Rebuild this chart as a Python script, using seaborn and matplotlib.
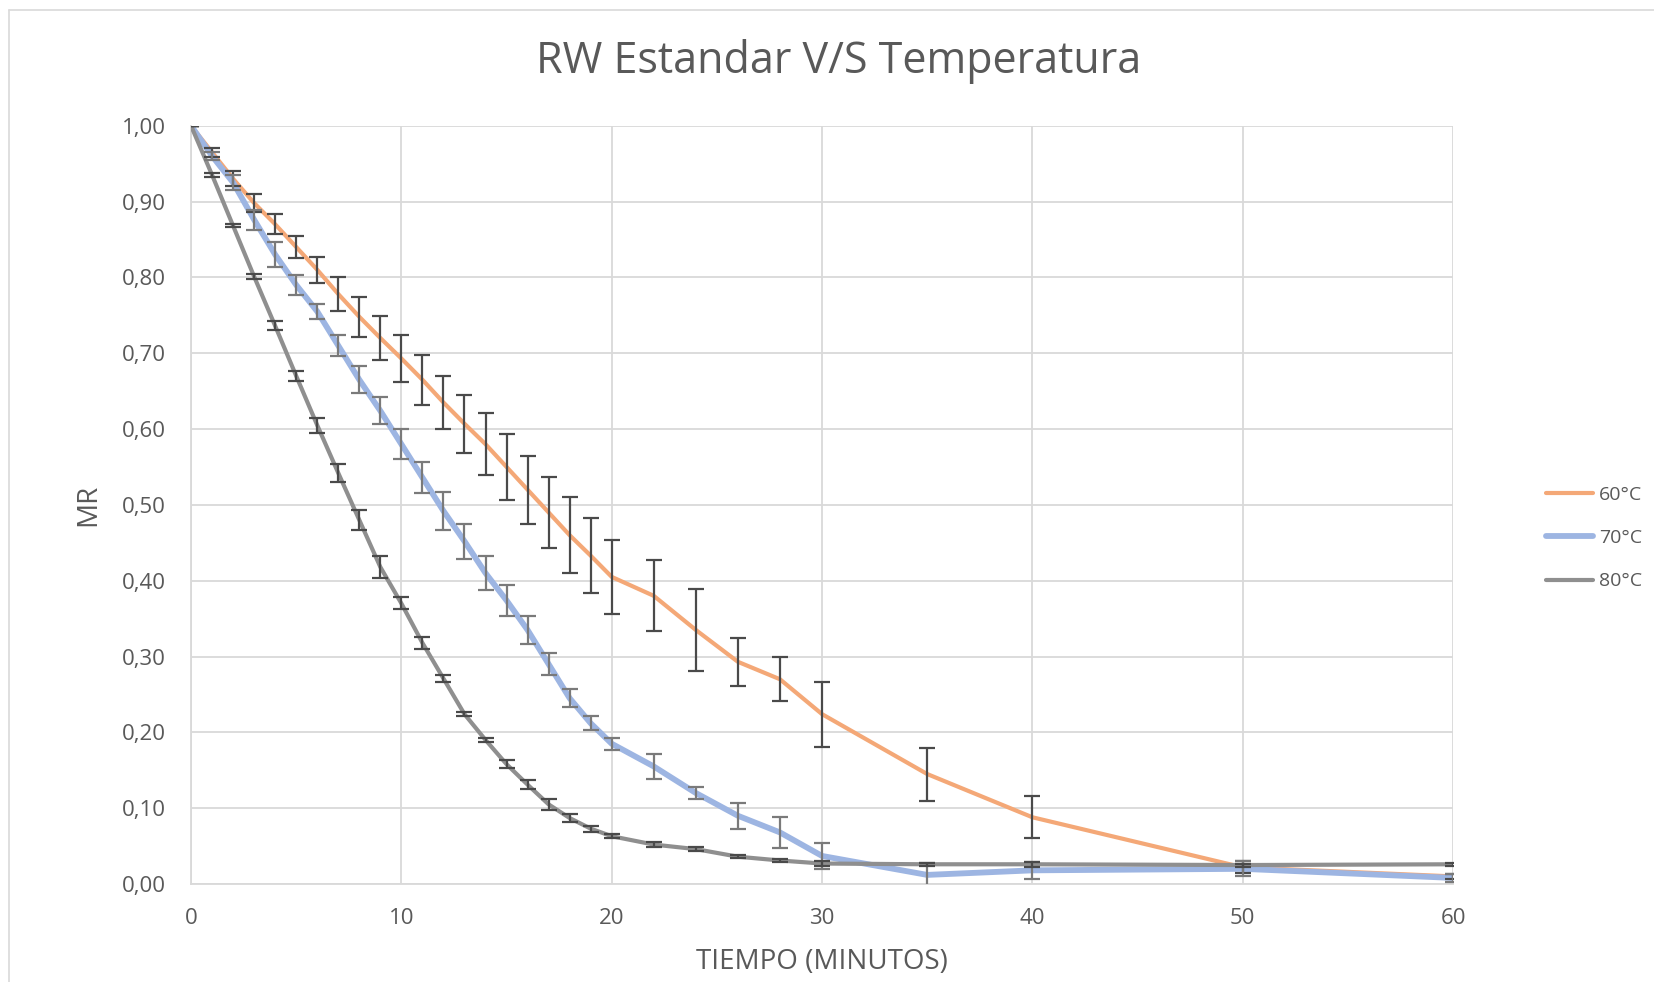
import matplotlib
matplotlib.use("Agg")
import matplotlib.pyplot as plt
import seaborn as sns
import pandas as pd
from matplotlib.lines import Line2D

# ---------------- data ----------------
tiempo = [0, 1, 2, 3, 4, 5, 6, 7, 8, 9, 10, 11, 12, 13, 14, 15, 16, 17, 18, 19, 20,
          22, 24, 26, 28, 30, 35, 40, 50, 60]

mr_60 = [1.000, 0.965, 0.930, 0.898, 0.870, 0.840, 0.810, 0.778, 0.748, 0.720, 0.693,
         0.665, 0.635, 0.607, 0.580, 0.550, 0.520, 0.490, 0.460, 0.433, 0.405,
         0.380, 0.335, 0.293, 0.270, 0.224, 0.145, 0.088, 0.022, 0.010]
err_60 = [0.000, 0.006, 0.010, 0.012, 0.013, 0.015, 0.017, 0.022, 0.026, 0.029, 0.031,
          0.033, 0.035, 0.038, 0.041, 0.043, 0.045, 0.047, 0.050, 0.049, 0.049,
          0.047, 0.054, 0.032, 0.029, 0.043, 0.035, 0.028, 0.008, 0.003]

mr_70 = [1.000, 0.960, 0.925, 0.876, 0.830, 0.790, 0.755, 0.710, 0.665, 0.624, 0.580,
         0.536, 0.492, 0.452, 0.410, 0.374, 0.335, 0.290, 0.245, 0.212, 0.185,
         0.155, 0.120, 0.090, 0.068, 0.037, 0.012, 0.018, 0.020, 0.008]
err_70 = [0.000, 0.005, 0.010, 0.013, 0.016, 0.013, 0.010, 0.014, 0.018, 0.018, 0.020,
          0.021, 0.025, 0.023, 0.022, 0.020, 0.018, 0.014, 0.012, 0.009, 0.008,
          0.017, 0.008, 0.017, 0.020, 0.017, 0.016, 0.011, 0.010, 0.005]

mr_80 = [1.000, 0.935, 0.868, 0.801, 0.736, 0.670, 0.605, 0.542, 0.480, 0.418, 0.370,
         0.318, 0.271, 0.224, 0.190, 0.158, 0.131, 0.105, 0.087, 0.073, 0.063,
         0.052, 0.046, 0.036, 0.031, 0.027, 0.026, 0.026, 0.025, 0.026]
err_80 = [0.000, 0.003, 0.002, 0.003, 0.006, 0.007, 0.010, 0.012, 0.013, 0.015, 0.008,
          0.008, 0.005, 0.003, 0.003, 0.005, 0.006, 0.007, 0.005, 0.004, 0.003,
          0.003, 0.003, 0.002, 0.002, 0.003, 0.002, 0.003, 0.002, 0.002]

series_names = ["60°C", "70°C", "80°C"]
x_ticks = [0, 10, 20, 30, 40, 50, 60]
x_ticklabels = ["0", "10", "20", "30", "40", "50", "60"]
y_ticks = [0.0, 0.1, 0.2, 0.3, 0.4, 0.5, 0.6, 0.7, 0.8, 0.9, 1.0]
y_ticklabels = ["0,00", "0,10", "0,20", "0,30", "0,40", "0,50", "0,60", "0,70",
                "0,80", "0,90", "1,00"]

title = "RW Estandar V/S Temperatura"
xlabel = "TIEMPO (MINUTOS)"
ylabel = "MR"

# ---------------- style ----------------
sns.set_theme(style="white")
plt.rcParams["font.family"] = ["Open Sans", "DejaVu Sans"]

colors = {"60°C": "#F4A877", "70°C": "#9DB5E2", "80°C": "#8F8F8F"}
widths = {"60°C": 3.0, "70°C": 4.2, "80°C": 3.0}
err_colors = {"60°C": "#4A4A4A", "70°C": "#7A7A7A", "80°C": "#4A4A4A"}
text_color = "#595959"
grid_color = "#D9D9D9"

fig = plt.figure(figsize=(16.54, 9.82), dpi=100)
ax = fig.add_axes([0.1155, 0.0998, 0.7630, 0.7722])

df = pd.concat([
    pd.DataFrame({"t": tiempo, "mr": mr_60, "err": err_60, "serie": series_names[0]}),
    pd.DataFrame({"t": tiempo, "mr": mr_70, "err": err_70, "serie": series_names[1]}),
    pd.DataFrame({"t": tiempo, "mr": mr_80, "err": err_80, "serie": series_names[2]}),
])

for name in series_names:
    d = df[df["serie"] == name]
    sns.lineplot(data=d, x="t", y="mr", ax=ax, color=colors[name],
                 linewidth=widths[name], label=name, zorder=3,
                 solid_capstyle="round", solid_joinstyle="round")

for name in series_names:
    d = df[df["serie"] == name]
    ax.errorbar(d["t"], d["mr"], yerr=d["err"], fmt="none", ecolor=err_colors[name],
                elinewidth=1.6, capsize=5.5, capthick=1.6, zorder=4)

ax.set_xlim(0, 60)
ax.set_ylim(0, 1.0)
ax.set_xticks(x_ticks)
ax.set_xticklabels(x_ticklabels)
ax.set_yticks(y_ticks)
ax.set_yticklabels(y_ticklabels)
ax.tick_params(axis="y", length=0, labelsize=16, colors=text_color, pad=18)
ax.tick_params(axis="x", length=0, labelsize=16, colors=text_color, pad=17)

ax.grid(True, color=grid_color, linewidth=1.3)
ax.set_axisbelow(True)
for s in ["top", "right"]:
    ax.spines[s].set_visible(False)
for s in ["left", "bottom"]:
    ax.spines[s].set_color(grid_color)
    ax.spines[s].set_linewidth(1.3)

ax.set_xlabel(xlabel, fontsize=20, color=text_color, labelpad=14)
ax.set_ylabel(ylabel, fontsize=20, color=text_color, labelpad=14)

fig.text(0.507, 0.937, title, ha="center", va="center", fontsize=31,
         color=text_color)

leg = ax.legend(loc="center left", bbox_to_anchor=(1.06, 0.456), frameon=False,
                fontsize=14, labelcolor=text_color, handlelength=2.4,
                handletextpad=0.3, labelspacing=1.3)

# chart border (top and left visible)
fig.add_artist(Line2D([9 / 1654, 1.0], [1 - 10 / 982, 1 - 10 / 982],
                      color="#D9D9D9", linewidth=1.2, transform=fig.transFigure))
fig.add_artist(Line2D([9 / 1654, 9 / 1654], [0.0, 1 - 10 / 982],
                      color="#D9D9D9", linewidth=1.2, transform=fig.transFigure))

fig.savefig("out.png", dpi=100)
